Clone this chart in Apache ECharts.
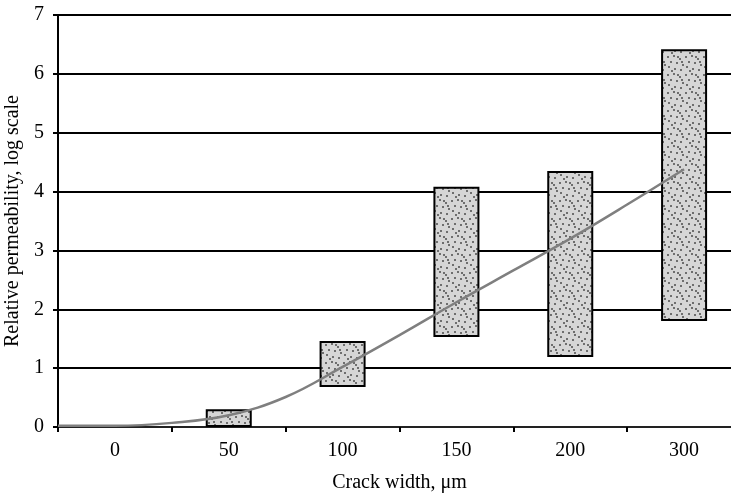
<!DOCTYPE html>
<html><head><meta charset="utf-8">
<script src="https://cdn.jsdelivr.net/npm/echarts@6/dist/echarts.min.js"></script>
<style>html,body{margin:0;padding:0;background:#fff}#c{width:731px;height:494px}</style>
</head><body><div id="c"></div>
<script>
var categories = ['0', '50', '100', '150', '200', '300'];
var barLow  = [null, 0, 0.68, 1.53, 1.19, 1.80];
var barHigh = [null, 0.30, 1.46, 4.08, 4.35, 6.42];
// trend curve: category position (index units), value
var curveX = [-0.5, 0, 0.5, 1, 1.5, 2, 2.5, 3, 3.5, 4, 4.5, 5];
var curveY = [0.02, 0.02, 0.07, 0.2, 0.51, 1.02, 1.56, 2.12, 2.66, 3.2, 3.78, 4.38];
var yTicks = [0, 1, 2, 3, 4, 5, 6, 7];

var tile = document.createElement('canvas');
tile.width = 18; tile.height = 18;
var g = tile.getContext('2d');
g.fillStyle = '#d6d6d6'; g.fillRect(0, 0, 18, 18);
g.fillStyle = '#6e6e6e';
var dots = [[1,2],[7,1],[13,4],[4,7],[10,8],[16,10],[2,12],[8,14],[14,15],[11,2],[5,16],[15,7]];
dots.forEach(function(d){ g.fillRect(d[0], d[1], 2, 2); });

var FONT = '"Liberation Serif", "DejaVu Serif", serif';
var chart = echarts.init(document.getElementById('c'));
var rangeVals = barHigh.map(function(h, i){ return h == null ? null : +(h - barLow[i]).toFixed(3); });
chart.setOption({
  animation: false,
  grid: { left: 58, top: 15, bottom: 67, right: -10, outerBoundsMode: 'none', containLabel: false },
  xAxis: [{
    type: 'category', data: categories, boundaryGap: true,
    axisLine: { lineStyle: { color: '#222', width: 2 } },
    axisTick: { show: true, length: 5, lineStyle: { color: '#000', width: 2 } },
    axisLabel: { color: '#000', fontFamily: FONT, fontSize: 20, margin: 14 },
    name: 'Crack width, \u03bcm', nameLocation: 'middle', nameGap: 46,
    nameTextStyle: { color: '#000', fontFamily: FONT, fontSize: 20 }
  }, {
    type: 'value', min: -0.5, max: 5.5, show: false
  }],
  yAxis: {
    type: 'value', min: yTicks[0], max: yTicks[yTicks.length - 1], interval: 1,
    axisLine: { show: true, onZero: false, lineStyle: { color: '#000', width: 2 } },
    axisTick: { show: true, length: 5, lineStyle: { color: '#000', width: 2 } },
    axisLabel: { color: '#000', fontFamily: FONT, fontSize: 20, margin: 14 },
    splitLine: { show: true, lineStyle: { color: '#000', width: 2 } },
    name: 'Relative permeability, log scale', nameLocation: 'middle', nameGap: 33,
    nameTextStyle: { color: '#000', fontFamily: FONT, fontSize: 20 }
  },
  series: [{
    type: 'bar', stack: 'r', data: barLow, barWidth: 46,
    itemStyle: { color: 'transparent' }, silent: true
  }, {
    type: 'bar', stack: 'r', data: rangeVals, barWidth: 46,
    itemStyle: { color: { image: tile, repeat: 'repeat' }, borderColor: '#000', borderWidth: 2 }
  }, {
    type: 'line', xAxisIndex: 1, smooth: 0.4, symbol: 'none', z: 5,
    data: curveX.map(function(x, i){ return [x, curveY[i]]; }),
    lineStyle: { color: '#7f7f7f', width: 2.5 }
  }]
});
</script></body></html>
